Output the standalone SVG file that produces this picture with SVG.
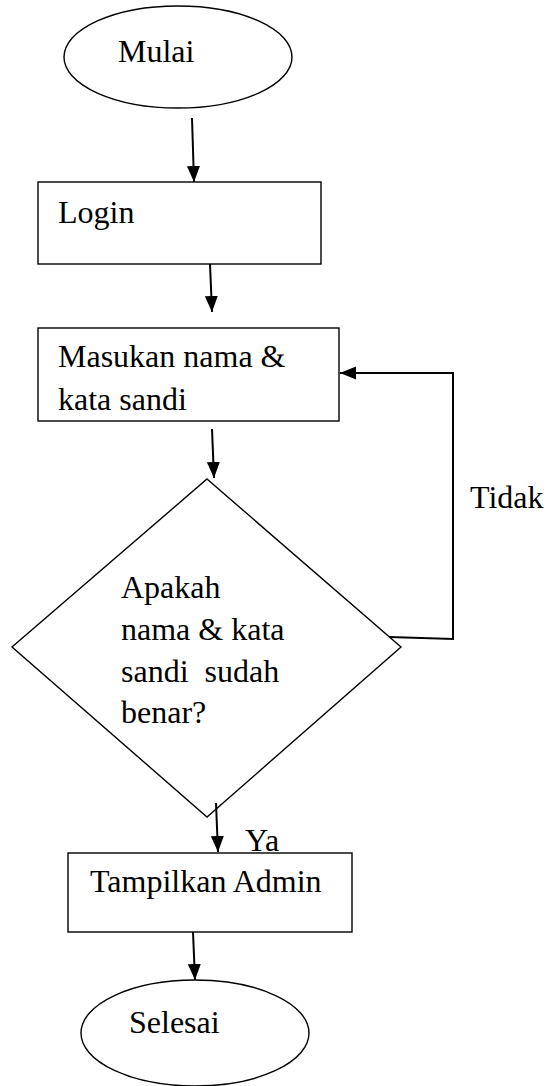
<svg xmlns="http://www.w3.org/2000/svg" width="553" height="1086" viewBox="0 0 553 1086">
<style>
.shape{fill:#fff;stroke:#000;stroke-width:1.4}
.t{font-family:"Liberation Serif","Times New Roman",serif;font-size:32px;fill:#000;white-space:pre}
.c{fill:none;stroke:#000;stroke-width:2}
</style>
<defs>
<marker id="ah" viewBox="0 0 16 14" refX="16" refY="7" markerWidth="16" markerHeight="14" markerUnits="userSpaceOnUse" orient="auto">
<path d="M0,0.5 L16,7 L0,13.5 Z" fill="#000"/>
</marker>
</defs>
<rect width="553" height="1086" fill="#fff"/>
<g id="mulai">
<ellipse class="shape" cx="178" cy="57" rx="114" ry="51"/>
<text class="t" x="118" y="62">Mulai</text>
</g>
<g id="login">
<rect class="shape" x="38" y="182" width="283" height="82"/>
<text class="t" x="58" y="223">Login</text>
</g>
<g id="masukan">
<rect class="shape" x="38" y="328" width="301" height="93"/>
<text class="t" x="58" y="367">Masukan nama &amp;</text>
<text class="t" x="58" y="410">kata sandi</text>
</g>
<g id="cek">
<polygon class="shape" points="207,479 401,647 207,817 12,647"/>
<text class="t" x="121" y="598">Apakah</text>
<text class="t" x="121" y="640">nama &amp; kata</text>
<text class="t" x="121" y="682">sandi  sudah</text>
<text class="t" x="121" y="723">benar?</text>
</g>
<g id="tampilkan">
<rect class="shape" x="68" y="853" width="284" height="79"/>
<text class="t" x="90" y="892">Tampilkan Admin</text>
</g>
<g id="selesai">
<ellipse class="shape" cx="195" cy="1033" rx="114" ry="53"/>
<text class="t" x="129" y="1033">Selesai</text>
</g>
<g id="connectors">
<line class="c" x1="192" y1="118" x2="194" y2="182" marker-end="url(#ah)"/>
<line class="c" x1="210" y1="264" x2="212" y2="312" marker-end="url(#ah)"/>
<line class="c" x1="212" y1="429" x2="214" y2="478" marker-end="url(#ah)"/>
<polyline class="c" points="389,637 453,639 453,373 340,373" marker-end="url(#ah)"/>
<line class="c" x1="216" y1="803" x2="218" y2="852" marker-end="url(#ah)"/>
<line class="c" x1="193" y1="932" x2="195" y2="980" marker-end="url(#ah)"/>
<text class="t" x="470" y="508">Tidak</text>
<text class="t" x="245" y="851">Ya</text>
</g>
</svg>
